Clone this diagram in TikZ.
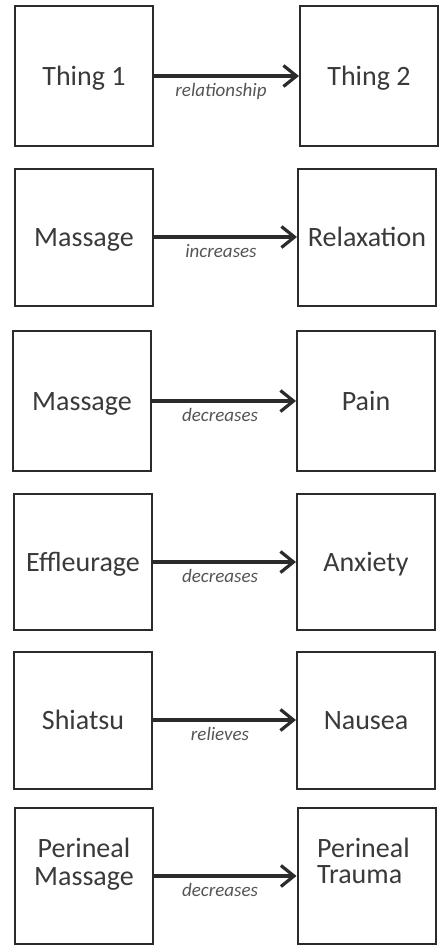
\documentclass[tikz,border=0pt]{standalone}
\usepackage{fontspec}
\setmainfont{Carlito}
\usetikzlibrary{arrows.meta}
\definecolor{edge}{HTML}{2B2B2B}
\definecolor{maintxt}{HTML}{3A3A3A}
\definecolor{reltxt}{HTML}{555555}
\begin{document}
\begin{tikzpicture}[x=1pt,y=-1pt,
  boxL/.style={draw=edge,line width=2pt,minimum width=138pt,inner sep=0pt,
    font=\fontsize{28}{29}\selectfont,text=maintxt,text height=18pt,text depth=0pt},
  boxR/.style={boxL,minimum width=138pt},
  txt/.style={font=\fontsize{28}{28}\selectfont,text=maintxt,inner sep=0pt,anchor=base},
  rel/.style={draw=edge,line width=3.2pt,-{Straight Barb[length=13pt,width=21pt,line width=3.2pt]}},
  rlab/.style={font=\fontsize{19}{19}\selectfont\itshape,text=reltxt,inner sep=0pt,anchor=base}]
\useasboundingbox (0,0) rectangle (441,946);
\fill[white] (0,0) rectangle (441,946);
% row 1
\node[boxL,minimum height=140pt] (L1) at (84,76) {Thing 1};
\node[boxR,minimum height=140pt] (R1) at (369,76) {Thing 2};
\draw[rel] (L1.east) -- (R1.west);
\node[rlab] (T1) at (221,96) {relationship};
% row 2
\node[boxL,minimum height=137pt] (L2) at (84,237) {Massage};
\node[boxR,minimum height=137pt] (R2) at (367,237) {Relaxation};
\draw[rel] (L2.east) -- (R2.west);
\node[rlab] (T2) at (221,257) {increases};
% row 3
\node[boxL,minimum height=140pt] (L3) at (82,401) {Massage};
\node[boxR,minimum height=140pt] (R3) at (366,401) {Pain};
\draw[rel] (L3.east) -- (R3.west);
\node[rlab] (T3) at (220,421) {decreases};
% row 4
\node[boxL,minimum height=136pt] (L4) at (83,562) {Effleurage};
\node[boxR,minimum height=136pt] (R4) at (366,562) {Anxiety};
\draw[rel] (L4.east) -- (R4.west);
\node[rlab] (T4) at (220,582) {decreases};
% row 5
\node[boxL,minimum height=137pt] (L5) at (83,720) {Shiatsu};
\node[boxR,minimum height=137pt] (R5) at (366,720) {Nausea};
\draw[rel] (L5.east) -- (R5.west);
\node[rlab] (T5) at (220,740) {relieves};
% row 6
\node[boxL,minimum height=136pt] (L6) at (84,876) {};
\node[boxR,minimum height=136pt] (R6) at (366.5,876) {};
\draw[rel] (L6.east) -- (R6.west);
\node[txt] (P6) at (84,857) {Perineal};
\node[txt] (M6) at (84,885) {Massage};
\node[txt,anchor=base west] (P6r) at (317,857) {Perineal};
\node[txt,anchor=base west] (M6r) at (317,883) {Trauma};
\node[rlab] (T6) at (220,896) {decreases};
\end{tikzpicture}
\end{document}
